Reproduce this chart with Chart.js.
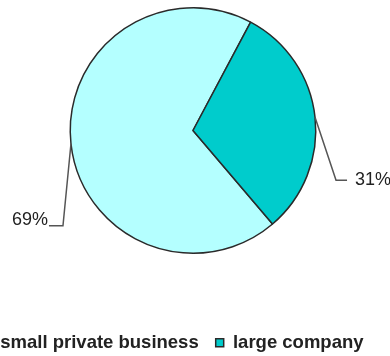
<!DOCTYPE html>
<html>
  <head>
    <meta charset="utf-8" />
    <title>Company size</title>
    <style>
      html, body { margin: 0; padding: 0; background: #fff; overflow: hidden; width: 390px; height: 356px; }
      #wrap { position: absolute; left: -34px; top: 0; width: 454px; height: 362px; }
    </style>
  </head>
  <body>
    <div id="wrap"><canvas id="chart"></canvas></div>
    <script src="https://cdn.jsdelivr.net/npm/chart.js@4.4.0/dist/chart.umd.min.js"></script>
    <script>
      const categories = ["small private business", "large company"];
      const shares = [69, 31];
      const sliceColors = ["#b4ffff", "#00cccc"];

      // leader line for each slice: elbow offset from the rim point, horizontal tail, text nudge
      const leaders = [
        { dx: -8, dy: 82, tail: -14, gap: 1, textDy: -6 },
        { dx: 21, dy: 63, tail: 11, gap: 8, textDy: 0 },
      ];

      const pieLabels = {
        id: "pieLabels",
        afterDatasetsDraw(chart) {
          const ctx = chart.ctx;
          const arcs = chart.getDatasetMeta(0).data;
          ctx.save();
          ctx.font = "18px 'Liberation Sans', Arial, sans-serif";
          ctx.textBaseline = "middle";
          arcs.forEach((arc, i) => {
            const p = arc.getProps(["x", "y", "startAngle", "endAngle", "outerRadius"], true);
            const mid = (p.startAngle + p.endAngle) / 2;
            const x0 = p.x + Math.cos(mid) * p.outerRadius;
            const y0 = p.y + Math.sin(mid) * p.outerRadius;
            const l = leaders[i];
            const x1 = x0 + l.dx;
            const y1 = y0 + l.dy;
            const x2 = x1 + l.tail;
            ctx.strokeStyle = "#555";
            ctx.lineWidth = 1.5;
            ctx.beginPath();
            ctx.moveTo(x0, y0);
            ctx.lineTo(x1, y1);
            ctx.lineTo(x2, y1);
            ctx.stroke();
            ctx.fillStyle = "#222";
            const left = l.tail < 0;
            ctx.textAlign = left ? "right" : "left";
            ctx.fillText(shares[i] + "%", x2 + (left ? -l.gap : l.gap), y1 + l.textDy);
          });
          ctx.restore();
        },
      };

      const ctx = document.getElementById("chart").getContext("2d");
      const myChart = new Chart(ctx, {
        type: "pie",
        data: {
          labels: categories,
          datasets: [
            {
              data: shares,
              backgroundColor: sliceColors,
              borderColor: "#2a2a2a",
              borderWidth: 1.5,
            },
          ],
        },
        options: {
          responsive: true,
          maintainAspectRatio: false,
          animation: false,
          rotation: 139.6,
          layout: { padding: { top: 7 } },
          plugins: {
            tooltip: { enabled: false },
            legend: {
              position: "bottom",
              align: "start",
              title: { display: true, text: "", font: { size: 10 }, padding: { top: 50.5, bottom: 0 } },
              labels: {
                boxWidth: 8,
                boxHeight: 8,
                padding: 17,
                color: "#222",
                font: { family: "'Liberation Sans', Arial, sans-serif", size: 18.5, weight: "bold" },
              },
            },
          },
        },
        plugins: [pieLabels],
      });
    </script>
  </body>
</html>
